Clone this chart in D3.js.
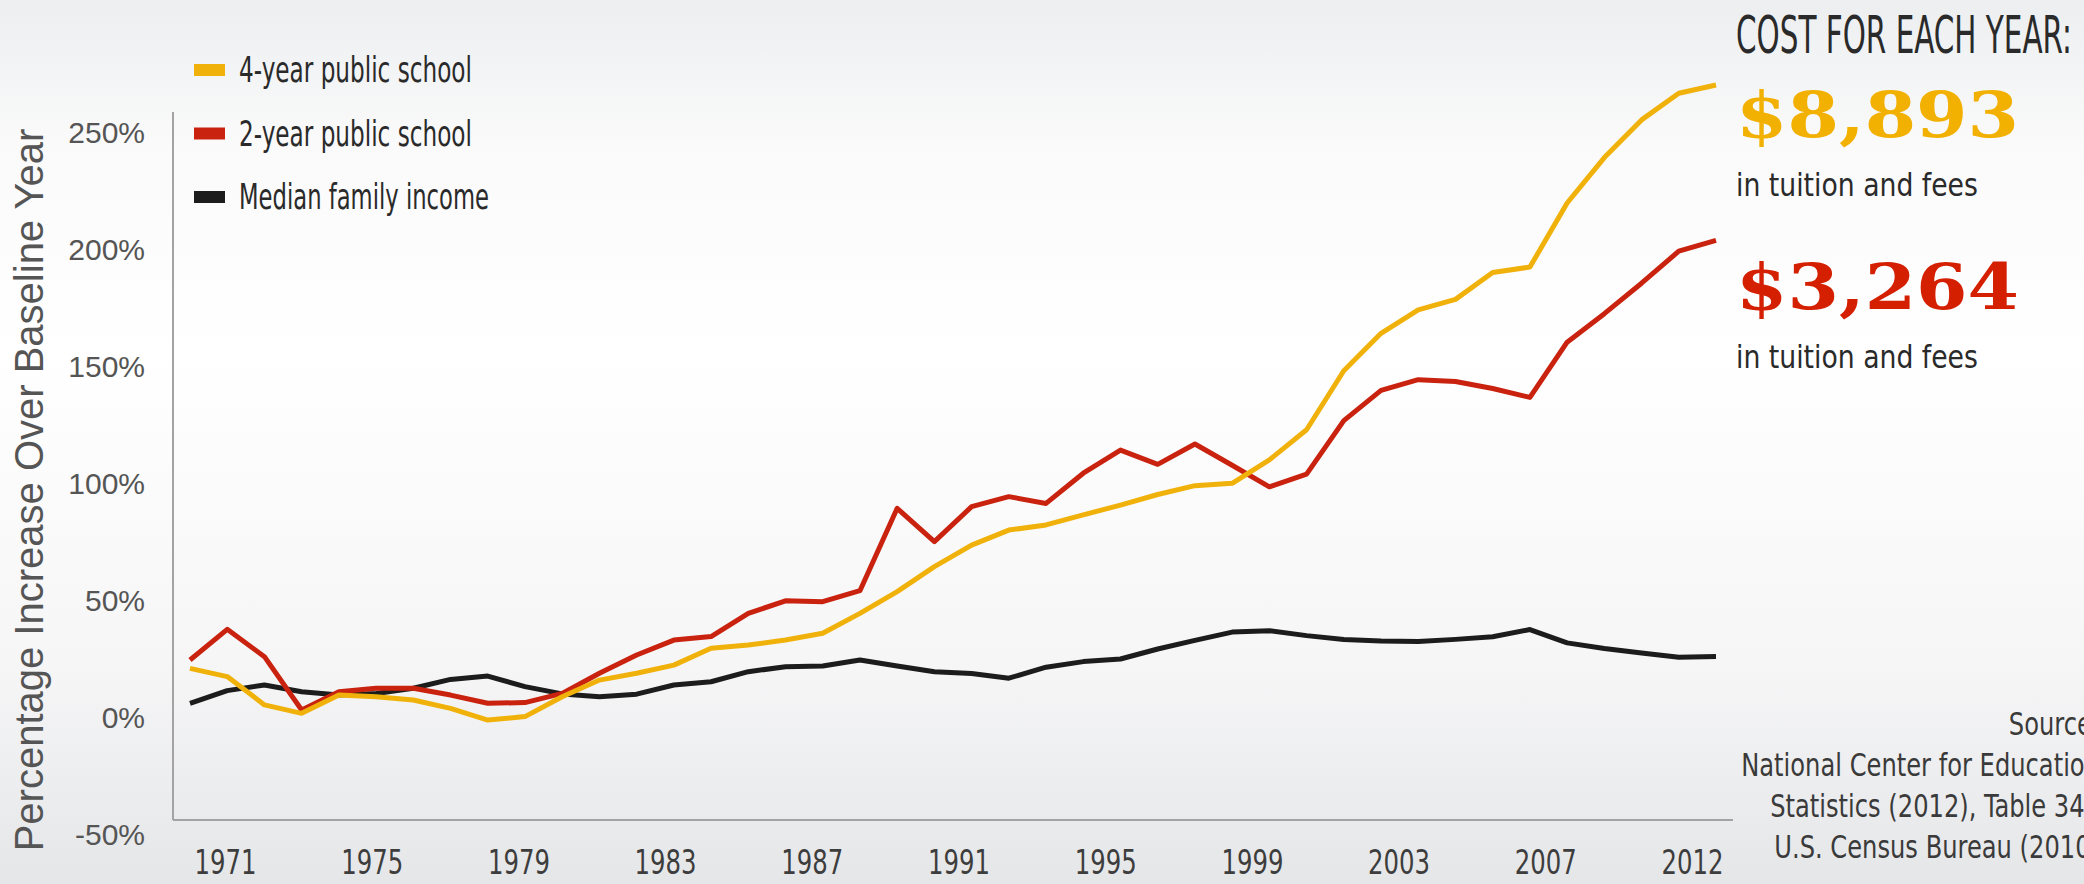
<!DOCTYPE html>
<html>
<head>
<meta charset="utf-8">
<script src="https://cdnjs.cloudflare.com/ajax/libs/d3/7.8.5/d3.min.js"></script>
<style>
  html, body { margin: 0; padding: 0; overflow: hidden; }
  svg { display: block; }
</style>
</head>
<body>
<div id="chart"></div>
<script>
// data (percent increase over baseline year)
const years = [1971, 1972, 1973, 1974, 1975, 1976, 1977, 1978, 1979, 1980,
  1981, 1982, 1983, 1984, 1985, 1986, 1987, 1988, 1989, 1990,
  1991, 1992, 1993, 1994, 1995, 1996, 1997, 1998, 1999, 2000,
  2001, 2002, 2003, 2004, 2005, 2006, 2007, 2008, 2009, 2010, 2011, 2012];

const fourYear = [21.2, 17.7, 5.6, 2.0, 9.8, 9.1, 7.7, 4.1, -0.9, 0.6,
  9.1, 16.2, 19.1, 22.6, 29.8, 31.2, 33.3, 36.2, 44.7, 54.0,
  64.7, 73.9, 80.3, 82.5, 86.8, 91.0, 95.5, 99.3, 100.3, 110.3,
  123.2, 148.4, 164.4, 174.4, 178.9, 190.4, 192.7, 220.1, 239.5, 255.6, 267.0, 270.5];

const twoYear = [24.8, 37.9, 26.2, 3.4, 11.2, 12.7, 12.7, 9.8, 6.3, 6.6,
  10.5, 19.1, 26.9, 33.3, 34.8, 44.7, 50.1, 49.7, 54.4, 89.6,
  75.4, 90.3, 94.6, 91.7, 104.6, 114.5, 108.4, 117.1, 108.0, 98.8,
  104.2, 127.1, 140.0, 144.6, 143.8, 140.8, 137.0, 160.6, 172.8, 185.8, 199.5, 204.1];

const income = [6.3, 11.7, 14.1, 11.2, 9.8, 10.5, 12.7, 16.5, 17.9, 13.4,
  10.3, 9.1, 10.2, 14.1, 15.5, 19.8, 21.9, 22.2, 24.8, 22.2,
  19.8, 19.0, 17.0, 21.7, 24.1, 25.2, 29.5, 33.2, 36.7, 37.3,
  35.2, 33.5, 32.9, 32.7, 33.6, 34.7, 37.8, 32.1, 29.7, 27.8, 26.0, 26.3];

const seriesNames = ["4-year public school", "2-year public school", "Median family income"];
const seriesValues = [fourYear, twoYear, income];
const seriesColors = ["#f0b20a", "#c9230f", "#1c1c1c"];

const yTicks = [-50, 0, 50, 100, 150, 200, 250];
const xTickLabels = ["1971", "1975", "1979", "1983", "1987", "1991", "1995", "1999", "2003", "2007", "2012"];

const costValues = ["$8,893", "$3,264"];
const costColors = ["#f2b000", "#d41f00"];
const sourceLines = ["Source:", "National Center for Education", "Statistics (2012), Table 349", "U.S. Census Bureau (2010)"];

// sizes
const width = 2084, height = 884;
const frame = { left: 173, top: 112, right: 1733, bottom: 820 };
const narrow = "'Liberation Sans Narrow', 'DejaVu Sans Condensed', 'Arial Narrow', sans-serif";
const plain = "'Liberation Sans', Arial, sans-serif";

// no condensed gothic installed, so squeeze the text horizontally instead
// factor: fixed number, or a function of the natural width
const squeeze = (sel, factor) => {
  sel.each(function () {
    const t = d3.select(this);
    const f = typeof factor === "function" ? factor(this.getComputedTextLength()) : factor;
    const tx = +t.attr("x") || 0;
    const ty = +t.attr("y") || 0;
    t.attr("x", 0)
      .attr("y", 0)
      .attr("transform", `translate(${tx}, ${ty}) scale(${f}, 1)`);
  });
};

const svg = d3.select("#chart")
  .append("svg")
  .attr("width", width)
  .attr("height", height);

// soft grey background
const grad = svg.append("defs")
  .append("linearGradient")
  .attr("id", "bg")
  .attr("x1", 0).attr("y1", 0).attr("x2", 0).attr("y2", 1);
[[0, "#eceef0"], [0.16, "#fafafa"], [0.4, "#ffffff"], [0.75, "#f6f6f7"], [1, "#e5e6e8"]]
  .forEach(s => grad.append("stop").attr("offset", s[0]).attr("stop-color", s[1]));

svg.append("rect")
  .attr("width", width)
  .attr("height", height)
  .attr("fill", "url(#bg)");

// scales
const x = d3.scaleLinear()
  .domain([years[0], years[years.length - 1]])
  .range([190, 1716]);

const y = d3.scaleLinear()
  .domain([-50, 250])
  .range([835, 133]);

// tick labels are evenly spread in the original
const xLabel = d3.scalePoint()
  .domain(xTickLabels)
  .range([225, 1692]);

// frame lines
svg.append("line")
  .attr("x1", frame.left).attr("x2", frame.left)
  .attr("y1", frame.top).attr("y2", frame.bottom)
  .attr("stroke", "#a3a3a3").attr("stroke-width", 2);
svg.append("line")
  .attr("x1", frame.left).attr("x2", frame.right)
  .attr("y1", frame.bottom).attr("y2", frame.bottom)
  .attr("stroke", "#a3a3a3").attr("stroke-width", 2);

// y axis
const yAxisGroup = svg.append("g")
  .attr("transform", `translate(${frame.left}, 0)`)
  .call(d3.axisLeft(y).tickValues(yTicks).tickSize(0).tickPadding(28).tickFormat(d => d + "%"));
yAxisGroup.select(".domain").remove();
yAxisGroup.selectAll("text")
  .attr("font-family", plain)
  .attr("font-size", 30)
  .attr("fill", "#555");

// x axis
const xAxisGroup = svg.append("g")
  .attr("transform", `translate(0, ${frame.bottom})`)
  .call(d3.axisBottom(xLabel).tickSize(0).tickPadding(30));
xAxisGroup.select(".domain").remove();
xAxisGroup.selectAll("text")
  .attr("font-family", narrow)
  .attr("font-size", 34)
  .attr("fill", "#3d3d3d");
squeeze(xAxisGroup.selectAll("text"), w => 62 / w);

// y axis title
svg.append("text")
  .attr("transform", "translate(43, 490) rotate(-90)")
  .attr("text-anchor", "middle")
  .attr("font-family", plain)
  .attr("font-size", 40)
  .attr("fill", "#555")
  .text("Percentage Increase Over Baseline Year");

// lines
const line = d3.line()
  .x((d, i) => x(years[i]))
  .y(d => y(d));

svg.append("g")
  .selectAll("path")
  .data(seriesValues.slice().reverse())
  .enter()
  .append("path")
  .attr("d", d => line(d))
  .attr("fill", "none")
  .attr("stroke", (d, i) => seriesColors[seriesColors.length - 1 - i])
  .attr("stroke-width", 5)
  .attr("stroke-linejoin", "round");

// legend
const legendWidths = [233, 233, 250];
const legend = svg.append("g")
  .selectAll("g")
  .data(seriesNames)
  .enter()
  .append("g")
  .attr("transform", (d, i) => `translate(194, ${70 + i * 63.5})`);

legend.append("rect")
  .attr("x", 0)
  .attr("y", -6)
  .attr("width", 31)
  .attr("height", 12)
  .attr("fill", (d, i) => seriesColors[i]);

legend.append("text")
  .attr("x", 45)
  .attr("y", 12)
  .attr("font-family", narrow)
  .attr("font-size", 35)
  .attr("fill", "#2a2a2a")
  .text(d => d)
  .each(function (d, i) {
    squeeze(d3.select(this), w => legendWidths[i] / w);
  });

// cost annotation
const note = svg.append("g").attr("transform", "translate(1736, 0)");

note.append("text")
  .attr("y", 53)
  .attr("font-family", narrow)
  .attr("font-size", 52)
  .attr("fill", "#2a2a2a")
  .text("COST FOR EACH YEAR:")
  .call(squeeze, w => 336 / w);

note.selectAll(".cost")
  .data(costValues)
  .enter()
  .append("text")
  .attr("class", "cost")
  .attr("y", (d, i) => 137 + i * 172)
  .attr("font-family", "'DejaVu Serif', 'Liberation Serif', serif")
  .attr("font-weight", "bold")
  .attr("font-size", 64)
  .attr("fill", (d, i) => costColors[i])
  .text(d => d)
  .call(squeeze, w => 283 / w);

note.selectAll(".fees")
  .data(costValues)
  .enter()
  .append("text")
  .attr("class", "fees")
  .attr("y", (d, i) => 196 + i * 172)
  .attr("font-family", narrow)
  .attr("font-size", 32)
  .attr("fill", "#2a2a2a")
  .text("in tuition and fees")
  .call(squeeze, w => 242 / w);

// source, right aligned just past the edge (cut as in the original)
svg.append("g")
  .selectAll("text")
  .data(sourceLines)
  .enter()
  .append("text")
  .attr("x", 2100)
  .attr("y", (d, i) => 735 + i * 41)
  .attr("text-anchor", "end")
  .attr("font-family", narrow)
  .attr("font-size", 32)
  .attr("fill", "#3a3a3a")
  .text(d => d)
  .call(squeeze, 0.84);
</script>
</body>
</html>
